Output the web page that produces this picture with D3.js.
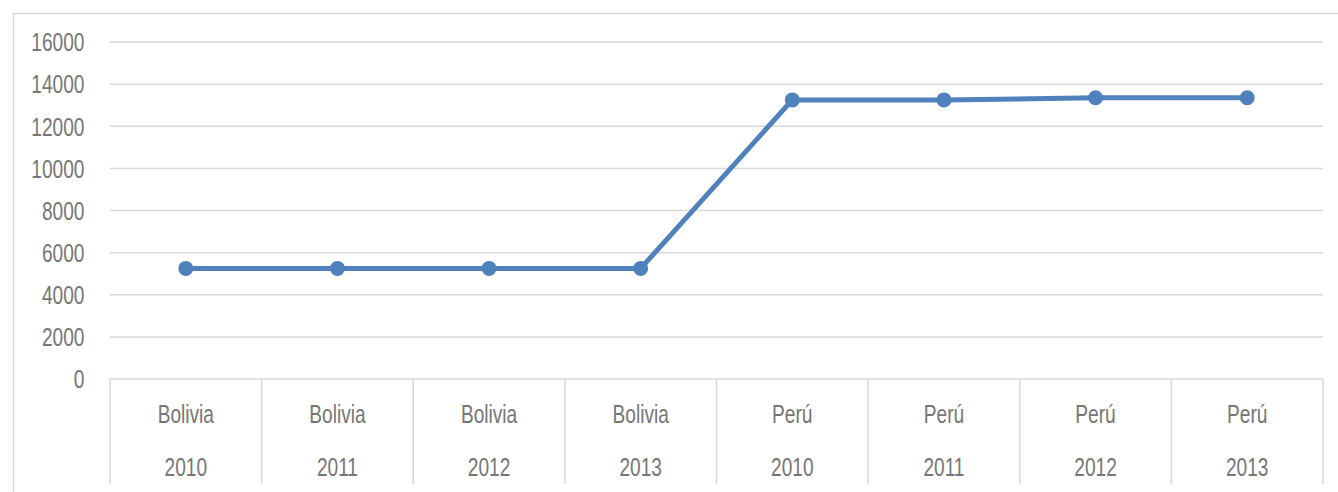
<!DOCTYPE html>
<html><head><meta charset="utf-8">
<script src="https://cdn.jsdelivr.net/npm/d3@7"></script>
<style>
body{margin:0;background:#fff;}
text{font-family:"Liberation Sans",sans-serif;fill:#767676;}
</style></head>
<body>
<svg id="c" width="1338" height="492"></svg>
<script>
const countries = ["Bolivia","Bolivia","Bolivia","Bolivia","Perú","Perú","Perú","Perú"];
const years = ["2010","2011","2012","2013","2010","2011","2012","2013"];
const values = [5250,5250,5250,5250,13250,13250,13350,13350];
const yTicks = [0,2000,4000,6000,8000,10000,12000,14000,16000];

(function(){
const svg = d3.select("#c");
const pl = 110, pr = 1323, pt = 42, pb = 379;
const idx = d3.range(values.length);
const x = d3.scaleBand().domain(idx).range([pl,pr]);
const y = d3.scaleLinear().domain([0,16000]).range([pb,pt]);
const grid = "#d9d9d9";
const fs = 25, sx = 0.765;

svg.append("path").attr("d","M13.5,492 V13.5 H1338").attr("fill","none").attr("stroke",grid).attr("stroke-width",1.5);

svg.append("g").selectAll("line").data(yTicks).join("line")
  .attr("x1",pl).attr("x2",pr).attr("y1",d=>y(d)).attr("y2",d=>y(d))
  .attr("stroke",grid).attr("stroke-width",1.5);

svg.append("g").selectAll("text").data(yTicks).join("text")
  .attr("transform",d=>`translate(84.5,${y(d)+0.5}) scale(${sx},1)`).attr("dy","0.35em").attr("text-anchor","end")
  .attr("font-size",fs).text(d=>d);

const seps = idx.map(i=>x(i)).concat([pr]);
svg.append("g").selectAll("line").data(seps).join("line")
  .attr("x1",d=>d).attr("x2",d=>d).attr("y1",pb).attr("y2",484)
  .attr("stroke",grid).attr("stroke-width",1.5);

svg.append("g").selectAll("text").data(idx).join("text")
  .attr("transform",i=>`translate(${x(i)+x.bandwidth()/2},414) scale(${sx},1)`).attr("dy","0.35em")
  .attr("text-anchor","middle").attr("font-size",fs).text(i=>countries[i]);
svg.append("g").selectAll("text").data(idx).join("text")
  .attr("transform",i=>`translate(${x(i)+x.bandwidth()/2},467) scale(${sx},1)`).attr("dy","0.35em")
  .attr("text-anchor","middle").attr("font-size",fs).text(i=>years[i]);

const line = d3.line().x(i=>x(i)+x.bandwidth()/2).y(i=>y(values[i]));
svg.append("path").datum(idx).attr("d",line).attr("fill","none")
  .attr("stroke","#4f81bd").attr("stroke-width",5).attr("stroke-linejoin","round");
svg.append("g").selectAll("circle").data(idx).join("circle")
  .attr("cx",i=>x(i)+x.bandwidth()/2).attr("cy",i=>y(values[i])).attr("r",7.5)
  .attr("fill","#4f81bd");
})();
</script>
</body></html>
